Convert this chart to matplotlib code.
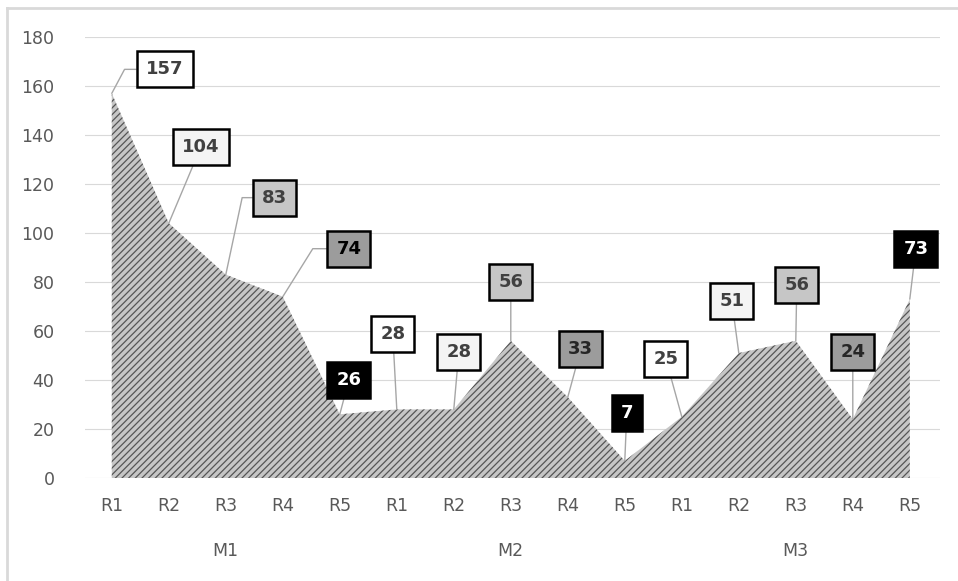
import matplotlib.pyplot as plt
from matplotlib.lines import Line2D

# data
rounds = ['R1', 'R2', 'R3', 'R4', 'R5'] * 3
groups = ['M1', 'M2', 'M3']
values = [157, 104, 83, 74, 26, 28, 28, 56, 33, 7, 25, 51, 56, 24, 73]
yticks = [0, 20, 40, 60, 80, 100, 120, 140, 160, 180]

# label box offsets (pixels) and box styles
offsets = [(53, 24), (32, 76), (49, 77), (66, 48), (9, 34), (-4, 75), (5, 57), (0, 59),
           (13, 48), (2, 48), (-16, 58), (-7, 52), (1, 56), (0, 67), (6, 50)]
styles = ['white', 'dots', 'gray', 'dark', 'black', 'white', 'dots', 'gray',
          'dark', 'black', 'white', 'dots', 'gray', 'dark', 'black']
elbow = {0: 62, 2: 78, 3: 58}

fig = plt.figure(figsize=(9.58, 5.81), dpi=100)
ax = fig.add_axes([85 / 958, 1 - 478 / 581, 855 / 958, 441 / 581])

x = list(range(len(values)))
plt.rcParams['hatch.linewidth'] = 0.9
ax.fill_between(x, 0, values, facecolor='#c6c6c6', edgecolor='#555555',
                hatch='/////', linewidth=0, zorder=2)

ax.set_xlim(-0.47, 14.53)
ax.set_ylim(0, 180)
ax.set_yticks(yticks)
ax.grid(axis='y', color='#d9d9d9', linewidth=0.8, zorder=0)
for s in ax.spines.values():
    s.set_visible(False)
ax.tick_params(length=0, labelsize=12.5, colors='#595959')
ax.tick_params(axis='y', pad=22)
ax.tick_params(axis='x', pad=14)
ax.set_xticks(x)
ax.set_xticklabels(rounds)

for i, g in enumerate(groups):
    ax.text(5 * i + 2, -30, g, ha='center', va='center', fontsize=12.5, color='#595959')

fill = {'white': ('white', '#404040'),
        'dots': ('#f4f4f4', '#404040'),
        'gray': ('#c6c6c6', '#404040'),
        'dark': ('#9c9c9c', '#262626'),
        'black': ('black', 'white')}

for i, v in enumerate(values):
    fc, tc = fill[styles[i]]
    if v == 74:
        tc = 'black'
    conn = 'arc3'
    if i in elbow:
        conn = 'angle,angleA=0,angleB=%d,rad=0' % elbow[i]
    ax.annotate(str(v), xy=(i, v), xytext=offsets[i], textcoords='offset pixels',
                ha='center', va='center', fontsize=13, fontweight='bold', color=tc,
                bbox=dict(boxstyle='square,pad=0.5', facecolor=fc, edgecolor='black',
                          linewidth=1.8),
                arrowprops=dict(arrowstyle='-', color='#a6a6a6', linewidth=1,
                                shrinkA=0, shrinkB=0, connectionstyle=conn),
                zorder=5, annotation_clip=False)

# chart border
fig.add_artist(Line2D([7 / 958, 1], [1 - 8 / 581, 1 - 8 / 581], transform=fig.transFigure,
                      color='#d9d9d9', linewidth=2))
fig.add_artist(Line2D([7 / 958, 7 / 958], [0, 1 - 8 / 581], transform=fig.transFigure,
                      color='#d9d9d9', linewidth=2))

fig.savefig('out.png', dpi=100)
